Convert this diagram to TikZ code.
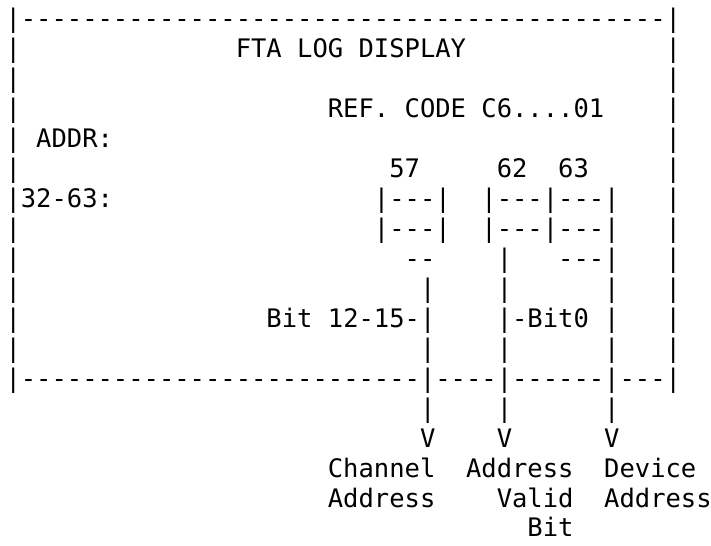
\documentclass[tikz,border=0pt]{standalone}
\usepackage{fontspec}
\setmonofont{DejaVu Sans Mono}

\begin{document}
\begin{tikzpicture}[x=15.35pt,y=-29.95pt,
  art/.style={font=\ttfamily\fontsize{25.5pt}{30pt}\selectfont,inner sep=0pt,text depth=0pt,anchor=base west,xshift=-7.675pt,yshift=-9.3pt}]
\useasboundingbox (-0.847,-0.618) rectangle (45.47,17.58);
% frame, top edge
\node[art] (topedge) at (0,0) {|------------------------------------------|};
\node[art] (l1) at (0,1) {|};\node[art] (title) at (15,1) {FTA LOG DISPLAY};\node[art] (r1) at (43,1) {|};
\node[art] (l2) at (0,2) {|};\node[art] (r2) at (43,2) {|};
\node[art] (l3) at (0,3) {|};\node[art] (refcode) at (21,3) {REF. CODE C6....01};\node[art] (r3) at (43,3) {|};
\node[art] (l4) at (0,4) {|};\node[art] (addr) at (2,4) {ADDR:};\node[art] (r4) at (43,4) {|};
% bit numbers
\node[art] (l5) at (0,5) {|};
\node[art] (b57) at (25,5) {57};
\node[art] (b62) at (32,5) {62};
\node[art] (b63) at (36,5) {63};
\node[art] (r5) at (43,5) {|};
% register boxes
\node[art] (range) at (0,6) {|32-63:};
\node[art] (boxa1) at (24,6) {|---|};\node[art] (boxb1) at (31,6) {|---|---|};\node[art] (r6) at (43,6) {|};
\node[art] (l7) at (0,7) {|};
\node[art] (boxa2) at (24,7) {|---|};\node[art] (boxb2) at (31,7) {|---|---|};\node[art] (r7) at (43,7) {|};
\node[art] (l8) at (0,8) {|};
\node[art] (boxa3) at (26,8) {--};\node[art] (stemb8) at (32,8) {|};\node[art] (boxc3) at (36,8) {---|};\node[art] (r8) at (43,8) {|};
% stems
\node[art] (l9) at (0,9) {|};
\node[art] (stema9) at (27,9) {|};\node[art] (stemb9) at (32,9) {|};\node[art] (stemc9) at (39,9) {|};
\node[art] (r9) at (43,9) {|};
\node[art] (l10) at (0,10) {|};
\node[art] (bithi) at (17,10) {Bit 12-15-|};
\node[art] (bitzero) at (32,10) {|-Bit0 |};
\node[art] (r10) at (43,10) {|};
\node[art] (l11) at (0,11) {|};
\node[art] (stema11) at (27,11) {|};\node[art] (stemb11) at (32,11) {|};\node[art] (stemc11) at (39,11) {|};
\node[art] (r11) at (43,11) {|};
% frame, bottom edge
\node[art] (botedge) at (0,12) {|--------------------------|----|------|---|};
% pointers
\node[art] (stema13) at (27,13) {|};\node[art] (stemb13) at (32,13) {|};\node[art] (stemc13) at (39,13) {|};
\node[art] (tipa) at (27,14) {V};\node[art] (tipb) at (32,14) {V};\node[art] (tipc) at (39,14) {V};
% field names
\node[art] (chan) at (21,15) {Channel};
\node[art] (chanaddr) at (21,16) {Address};
\node[art] (valid) at (30,15) {Address};
\node[art] (validb) at (32,16) {Valid};
\node[art] (validc) at (34,17) {Bit};
\node[art] (dev) at (39,15) {Device};
\node[art] (devaddr) at (39,16) {Address};
\end{tikzpicture}
\end{document}
